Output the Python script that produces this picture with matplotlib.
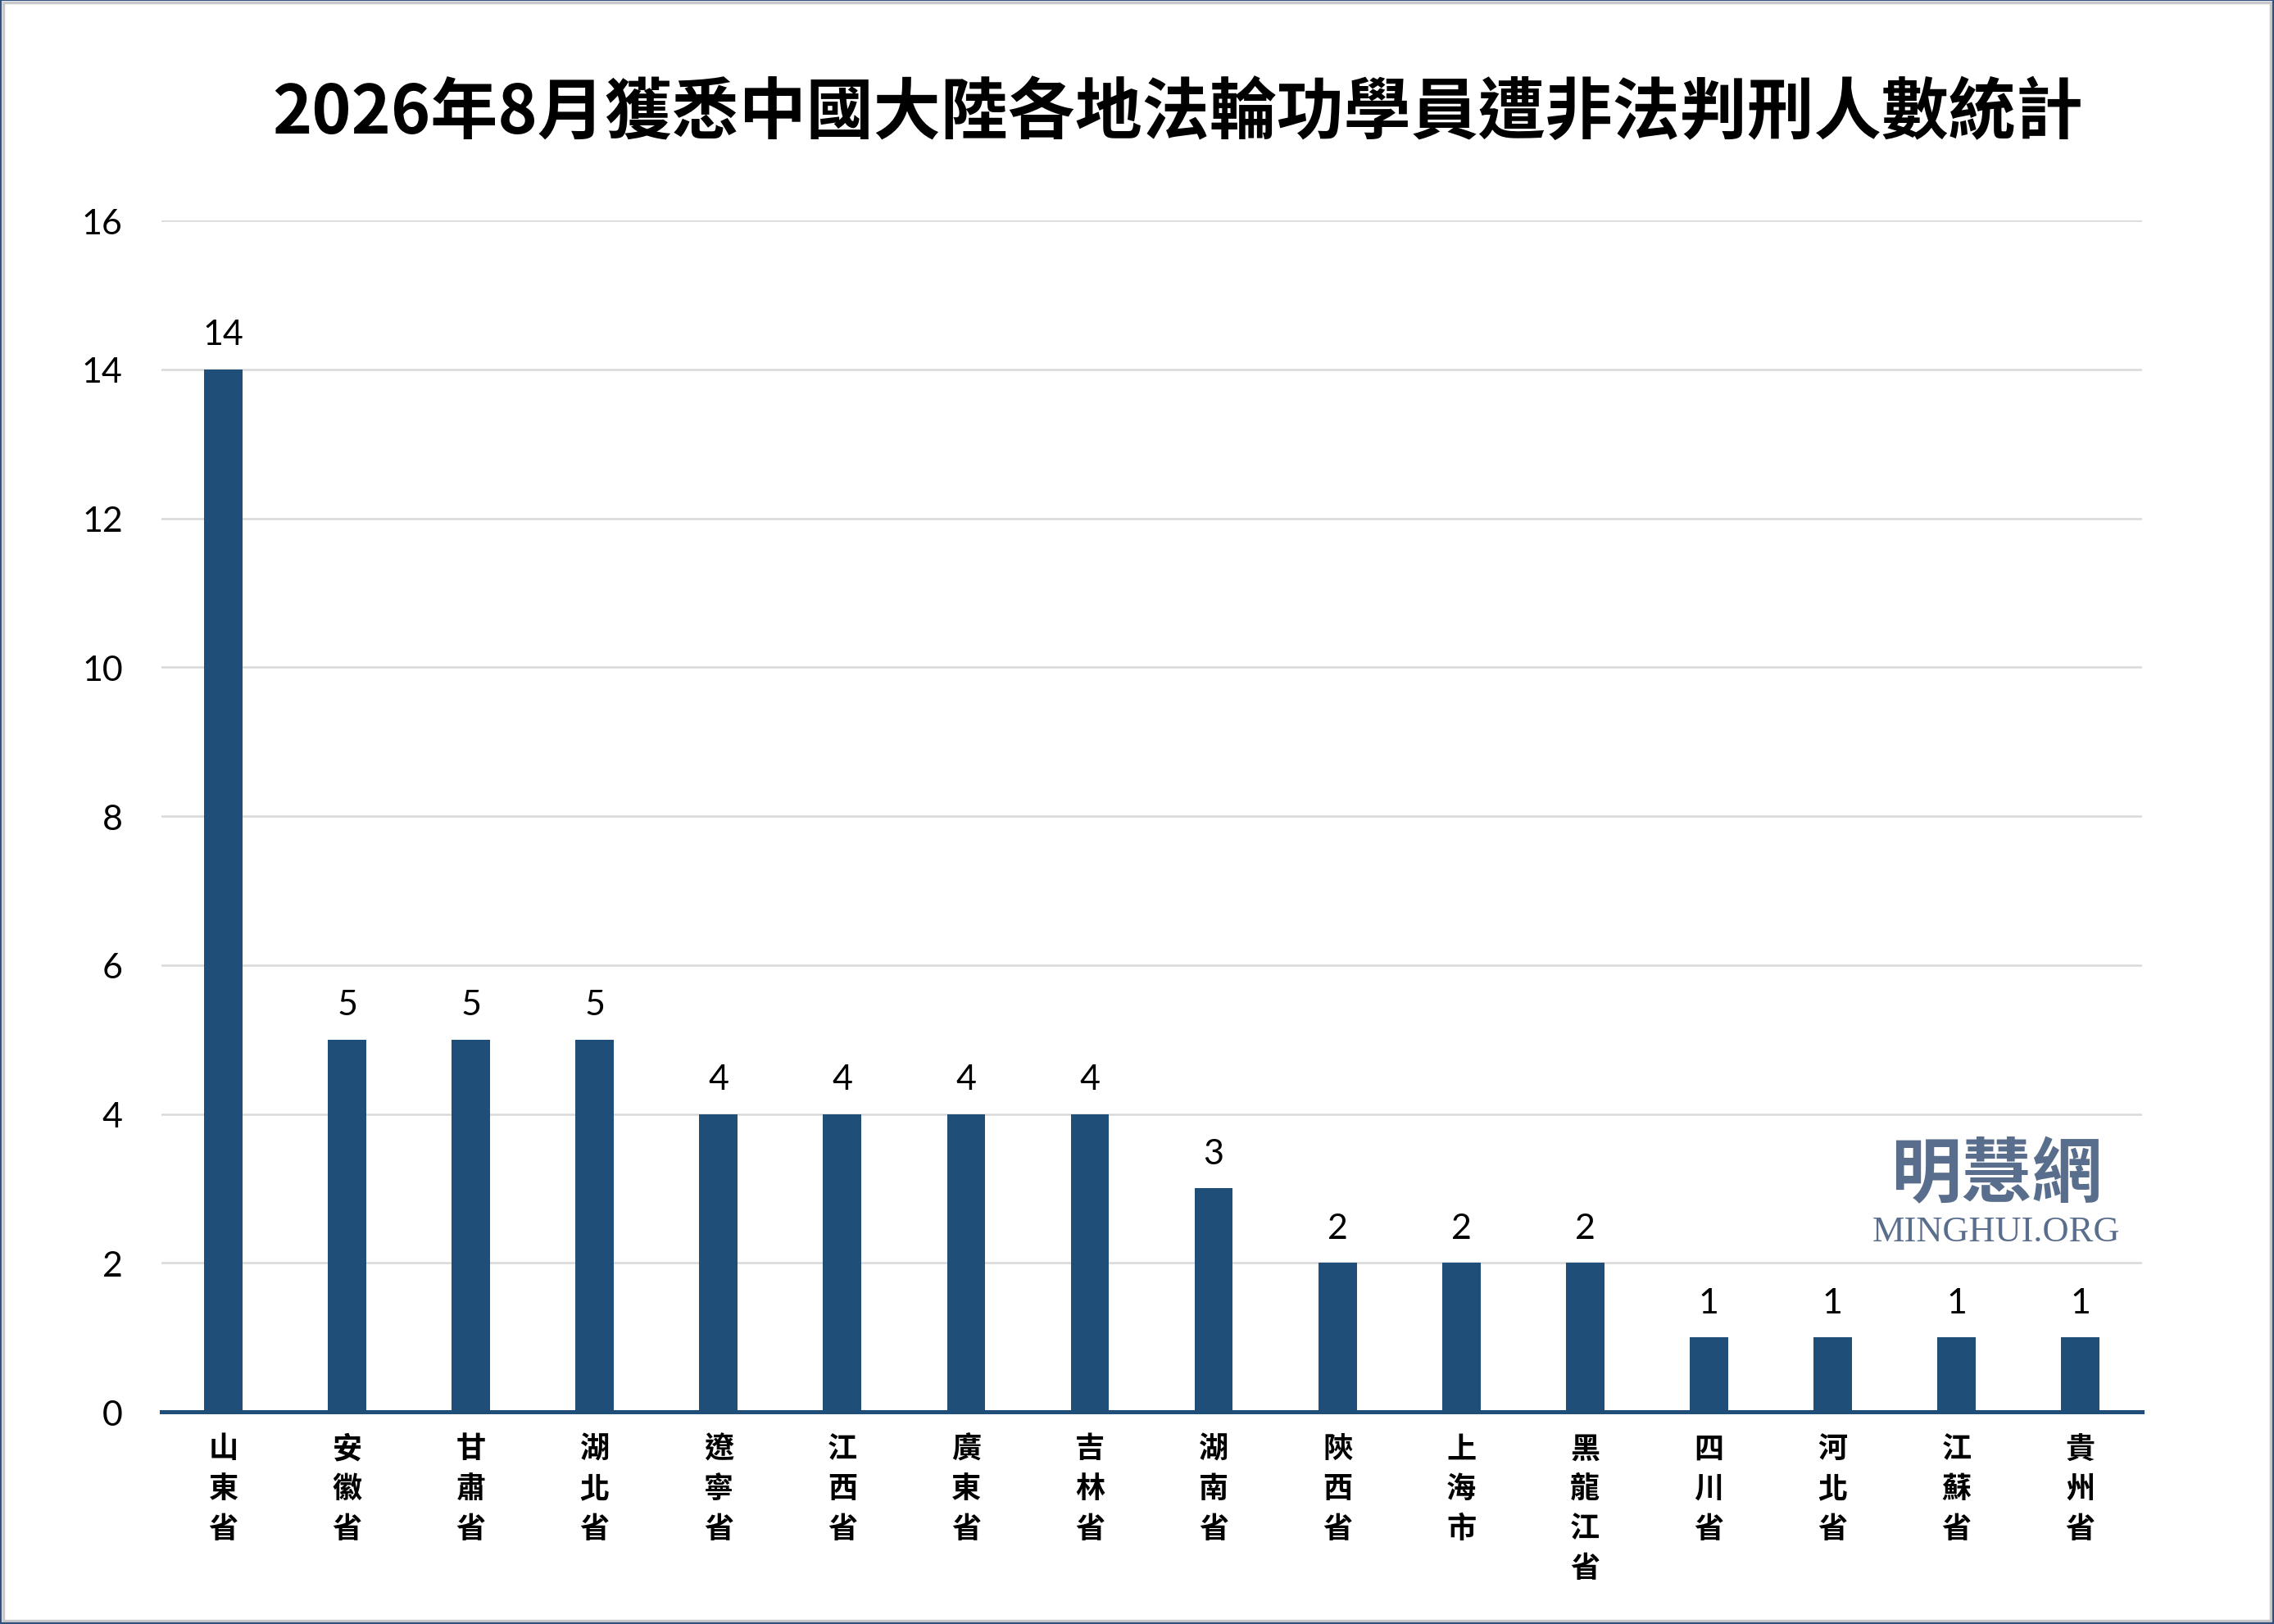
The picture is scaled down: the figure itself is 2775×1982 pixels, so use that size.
import matplotlib
matplotlib.use("Agg")
import matplotlib.pyplot as plt
from matplotlib.patches import Rectangle

# ─────────────────────────────────────────
#  Data
# ─────────────────────────────────────────

title = "2026年8月獲悉中國大陸各地法輪功學員遭非法判刑人數統計"

regions = ["山東省", "安徽省", "甘肅省", "湖北省", "遼寧省", "江西省",
           "廣東省", "吉林省", "湖南省", "陝西省", "上海市", "黑龍江省",
           "四川省", "河北省", "江蘇省", "貴州省"]
counts = [14, 5, 5, 5, 4, 4, 4, 4, 3, 2, 2, 2, 1, 1, 1, 1]

y_ticks = [0, 2, 4, 6, 8, 10, 12, 14, 16]

BAR_COLOR = "#1F4E79"
GRID_COLOR = "#D9D9D9"
MARK_COLOR = "#586E8C"
CJK = ["Noto Sans CJK TC", "DejaVu Sans"]
NUM = ["Lato", "DejaVu Sans"]

# ─────────────────────────────────────────
#  Figure
# ─────────────────────────────────────────

fig = plt.figure(figsize=(27.75, 19.83), dpi=100)
ax = fig.add_axes([0.071, 0.1306, 0.871, 0.7332])

x = list(range(len(regions)))
ax.bar(x, counts, width=0.31, color=BAR_COLOR, zorder=3)

for xi, v in zip(x, counts):
    ax.annotate(str(v), xy=(xi, v), xytext=(0, 17), textcoords="offset points",
                ha="center", va="bottom", fontsize=31, family=NUM)

ax.set_xlim(-0.5, len(regions) - 0.5)
ax.set_ylim(0, 16)
ax.set_yticks(y_ticks)
ax.set_yticklabels([str(t) for t in y_ticks], fontsize=31, family=NUM)
ax.yaxis.grid(True, color=GRID_COLOR, linewidth=1.8, zorder=0)
ax.set_axisbelow(True)

ax.set_xticks(x)
ax.set_xticklabels(["\n".join(r) for r in regions], fontsize=26,
                   family=CJK, fontweight="bold", linespacing=1.4, va="top")
ax.tick_params(axis="y", length=0, pad=34)
ax.tick_params(axis="x", length=0, pad=19)

for side in ["left", "right", "top"]:
    ax.spines[side].set_visible(False)
ax.spines["bottom"].set_color(BAR_COLOR)
ax.spines["bottom"].set_linewidth(3.6)
ax.spines["bottom"].set_zorder(4)

fig.text(0.518, 0.930, title, ha="center", va="center",
         fontsize=59, family=CJK, fontweight="black")

# watermark
fig.text(0.878, 0.2765, "明慧網", ha="center", va="center",
         fontsize=62, family=CJK, fontweight="bold", color=MARK_COLOR)
fig.text(0.878, 0.2415, "MINGHUI.ORG", ha="center", va="center",
         fontsize=32, family=["Liberation Serif"], color=MARK_COLOR)

# frame
fig.patches.append(Rectangle((0.0015, 0.002), 0.997, 0.996, transform=fig.transFigure,
                             fill=False, edgecolor="#C8C8C8", linewidth=2.5))
fig.patches.append(Rectangle((0, 0), 1, 1, transform=fig.transFigure,
                             fill=False, edgecolor="#2F5080", linewidth=3))

fig.savefig("out.png", dpi=100, facecolor="white")
